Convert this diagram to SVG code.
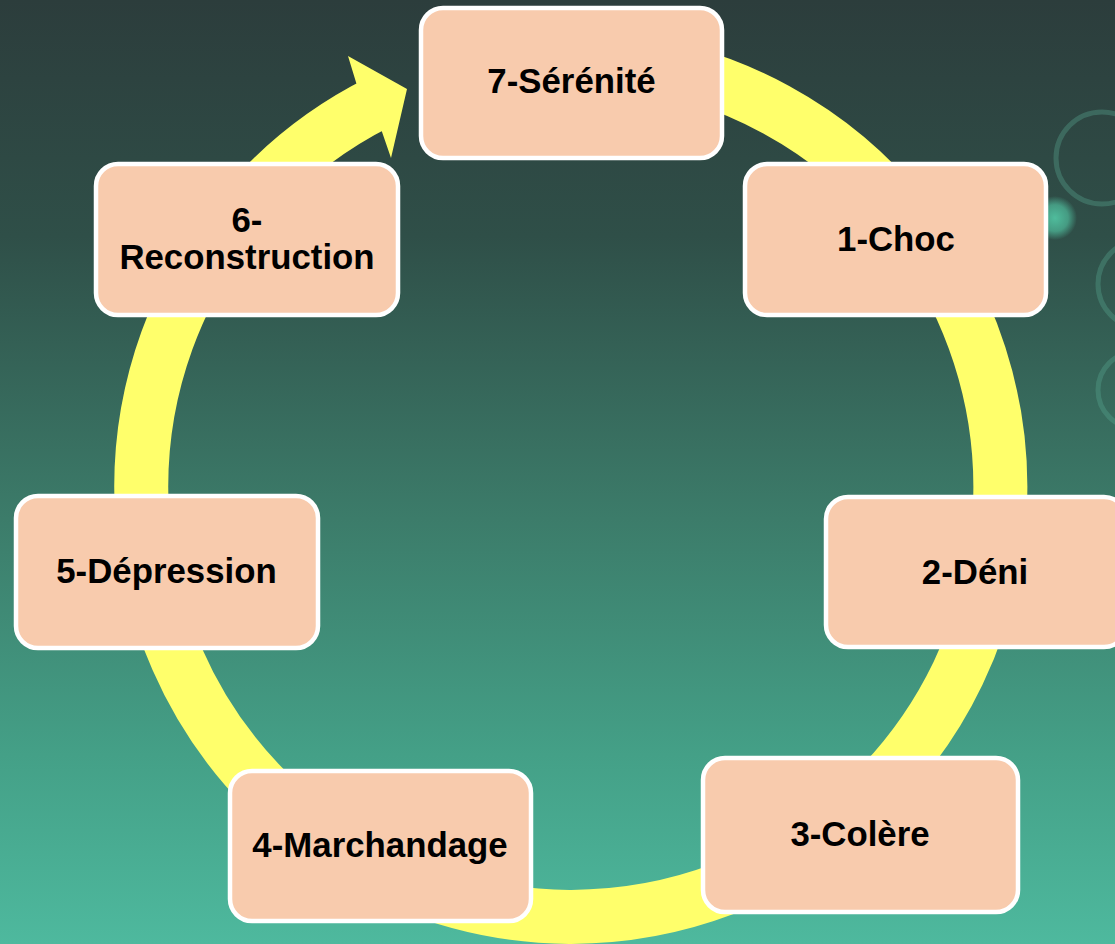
<svg xmlns="http://www.w3.org/2000/svg" width="1115" height="944" viewBox="0 0 1115 944">
  <defs>
    <linearGradient id="bg" x1="0" y1="0" x2="0" y2="1">
      <stop offset="0" stop-color="#2c3d3c"/>
      <stop offset="0.25" stop-color="#2f4f48"/>
      <stop offset="0.55" stop-color="#3c7c6a"/>
      <stop offset="0.8" stop-color="#44a087"/>
      <stop offset="1" stop-color="#4eb99e"/>
    </linearGradient>
    <radialGradient id="glow" cx="0.5" cy="0.5" r="0.5">
      <stop offset="0" stop-color="#4fbc9c"/>
      <stop offset="0.6" stop-color="#4fbc9c" stop-opacity="0.7"/>
      <stop offset="1" stop-color="#4fbc9c" stop-opacity="0"/>
    </radialGradient>
    <style>
      .node rect { fill: #f8cbad; stroke: #ffffff; stroke-width: 4.5; }
      .node text { font-family: "Liberation Sans", Arial, sans-serif; font-weight: bold; font-size: 34.8px; fill: #000000; text-anchor: middle; }
      .ring { fill: none; stroke: #ffff6b; stroke-width: 54; }
      .head { fill: #ffff6b; }
      .deco { fill: none; stroke: #5aa893; stroke-width: 5; opacity: 0.35; }
    </style>
  </defs>
  <rect x="0" y="0" width="1115" height="944" fill="url(#bg)"/>
  <g id="decoration">
    <circle class="deco" cx="1102" cy="158" r="46"/>
    <circle class="deco" cx="1142" cy="284" r="44"/>
    <circle class="deco" cx="1136" cy="390" r="38"/>
    <circle cx="1055" cy="218" r="22" fill="url(#glow)"/>
  </g>
  <g id="connectors">
    <path class="ring" d="M 459.7 71.7 A 430 430 0 0 1 723.3 889.1 A 430 430 0 0 1 379.1 102.2"/>
    <polygon class="head" points="356.4,83.5 348,56 407,89 391,158 381.8,131.2"/>
  </g>
  <g id="node7" class="node">
    <rect x="421" y="8" width="301" height="150" rx="22"/>
    <text x="571.5" y="93">7-Sérénité</text>
  </g>
  <g id="node1" class="node">
    <rect x="745" y="164" width="301" height="151" rx="22"/>
    <text x="896" y="251">1-Choc</text>
  </g>
  <g id="node2" class="node">
    <rect x="826" y="497" width="300" height="150" rx="22"/>
    <text x="975" y="584">2-Déni</text>
  </g>
  <g id="node3" class="node">
    <rect x="703" y="758" width="315" height="154" rx="22"/>
    <text x="860" y="846">3-Colère</text>
  </g>
  <g id="node4" class="node">
    <rect x="230" y="771" width="301" height="150" rx="22"/>
    <text x="380" y="857">4-Marchandage</text>
  </g>
  <g id="node5" class="node">
    <rect x="16" y="496" width="302" height="152" rx="22"/>
    <text x="166.5" y="583">5-Dépression</text>
  </g>
  <g id="node6" class="node">
    <rect x="96" y="164" width="302" height="151" rx="22"/>
    <text x="247" y="232">6-</text>
    <text x="247" y="269">Reconstruction</text>
  </g>
</svg>
